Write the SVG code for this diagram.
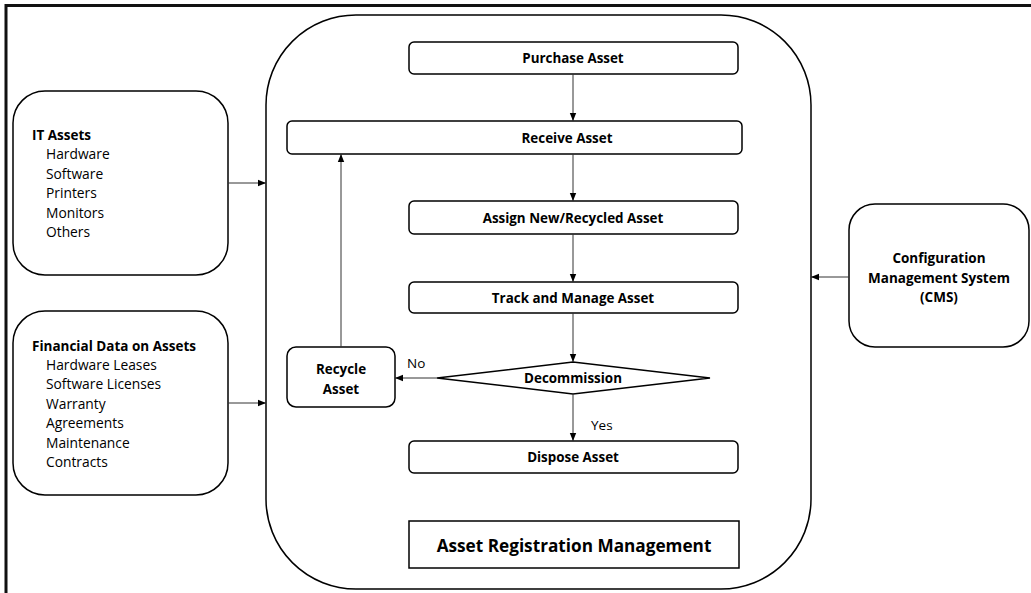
<svg xmlns="http://www.w3.org/2000/svg" width="1031" height="593" viewBox="0 0 1031 593">
  <defs>
    <marker id="arrow" viewBox="0 0 8 8" refX="8" refY="4" markerWidth="8" markerHeight="8" markerUnits="userSpaceOnUse" orient="auto">
      <path d="M0,0.8 L8,4 L0,7.2 z" fill="#000"/>
    </marker>
    <style>
      .box { fill: #fff; stroke: #000; stroke-width: 1.5; }
      .conn { fill: none; stroke: #333; stroke-width: 1; marker-end: url(#arrow); }
      text { font-family: "Open Sans", "Liberation Sans", sans-serif; fill: #000; }
      .b { font-weight: 700; font-size: 13.4px; }
      .r { font-size: 13.8px; }
      .bh { font-weight: 700; font-size: 13.5px; }
      .c { text-anchor: middle; dominant-baseline: central; }
    </style>
  </defs>

  <!-- page frame (top and left edges) -->
  <path d="M6,593 V5.5 H1031" fill="none" stroke="#111" stroke-width="3"/>

  <!-- main process container -->
  <g id="container">
    <rect class="box" x="266" y="15" width="545" height="574" rx="90" ry="90"/>
  </g>

  <g id="it-assets">
    <rect class="box" x="13" y="91" width="215" height="184" rx="32" ry="32"/>
    <text class="bh" x="32" y="140">IT Assets</text>
    <text class="r" x="46" y="159">Hardware</text>
    <text class="r" x="46" y="178.5">Software</text>
    <text class="r" x="46" y="198">Printers</text>
    <text class="r" x="46" y="217.5">Monitors</text>
    <text class="r" x="46" y="237">Others</text>
  </g>

  <g id="financial-data">
    <rect class="box" x="13" y="311" width="215" height="184" rx="32" ry="32"/>
    <text class="bh" x="32" y="351">Financial Data on Assets</text>
    <text class="r" x="46" y="369.5">Hardware Leases</text>
    <text class="r" x="46" y="389">Software Licenses</text>
    <text class="r" x="46" y="408.5">Warranty</text>
    <text class="r" x="46" y="428">Agreements</text>
    <text class="r" x="46" y="447.5">Maintenance</text>
    <text class="r" x="46" y="467">Contracts</text>
  </g>

  <g id="cms">
    <rect class="box" x="849" y="204" width="180" height="143" rx="26" ry="26"/>
    <text class="bh c" x="939" y="258">Configuration</text>
    <text class="bh c" x="939" y="278">Management System</text>
    <text class="bh c" x="939" y="297">(CMS)</text>
  </g>

  <g id="purchase">
    <rect class="box" x="409" y="42" width="329" height="32" rx="5" ry="5"/>
    <text class="b c" x="573" y="58">Purchase Asset</text>
  </g>

  <g id="receive">
    <rect class="box" x="287" y="121" width="455" height="33" rx="5" ry="5"/>
    <text class="b c" x="567" y="137.5">Receive Asset</text>
  </g>

  <g id="assign">
    <rect class="box" x="409" y="201" width="329" height="33" rx="5" ry="5"/>
    <text class="b c" x="573" y="217.5">Assign New/Recycled Asset</text>
  </g>

  <g id="track">
    <rect class="box" x="409" y="282" width="329" height="31" rx="5" ry="5"/>
    <text class="b c" x="573" y="297.5">Track and Manage Asset</text>
  </g>

  <g id="decommission">
    <polygon class="box" points="437,378 573,362 710,378 573,394"/>
    <text class="b c" x="573" y="378">Decommission</text>
  </g>

  <g id="recycle">
    <rect class="box" x="287" y="347" width="108" height="60" rx="9" ry="9"/>
    <text class="b c" x="341" y="369">Recycle</text>
    <text class="b c" x="341" y="389">Asset</text>
  </g>

  <g id="dispose">
    <rect class="box" x="409" y="441" width="329" height="32" rx="5" ry="5"/>
    <text class="b c" x="573" y="457">Dispose Asset</text>
  </g>

  <g id="registration">
    <rect x="409" y="521" width="330" height="47" fill="#fff" stroke="#000" stroke-width="1.5"/>
    <text class="c" x="574" y="545" font-weight="700" font-size="17.2px">Asset Registration Management</text>
  </g>

  <g id="connectors">
    <line class="conn" x1="573" y1="74" x2="573" y2="121"/>
    <line class="conn" x1="573" y1="154" x2="573" y2="201"/>
    <line class="conn" x1="573" y1="234" x2="573" y2="282"/>
    <line class="conn" x1="573" y1="313" x2="573" y2="362"/>
    <line class="conn" x1="573" y1="394" x2="573" y2="441"/>
    <line class="conn" x1="437" y1="378" x2="395" y2="378"/>
    <line class="conn" x1="341" y1="347" x2="341" y2="154"/>
    <line class="conn" x1="228" y1="183" x2="266" y2="183"/>
    <line class="conn" x1="228" y1="403" x2="266" y2="403"/>
    <line class="conn" x1="849" y1="277" x2="811" y2="277"/>
    <text x="407" y="368" font-size="13.5px">No</text>
    <text x="591" y="430" font-size="13.5px">Yes</text>
  </g>
</svg>
